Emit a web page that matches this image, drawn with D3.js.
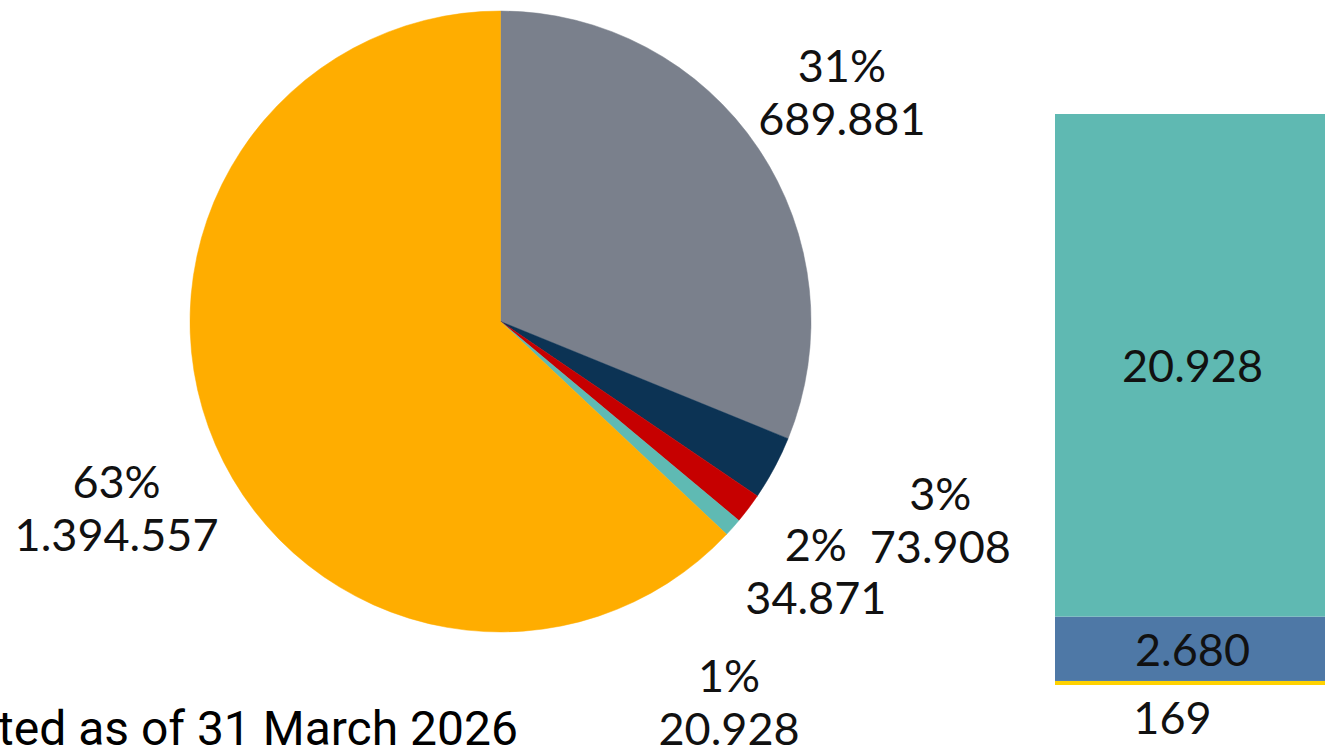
<!DOCTYPE html>
<html>
<head>
<meta charset="utf-8">
<script src="https://cdn.jsdelivr.net/npm/d3@7"></script>
<style>
  html, body { margin: 0; padding: 0; background: #ffffff; overflow: hidden; }
  svg { display: block; }
</style>
</head>
<body>
<svg id="chart" width="1325" height="750"></svg>
<script>
// ---- data ----
const pieCategories = ["grey", "navy", "red", "teal", "orange"];
const pieValues = [689881, 73908, 34871, 20928, 1394557];
const pieColors = ["#7a808c", "#0c3354", "#c60000", "#5fbab3", "#ffad00"];

// stacked bar, listed from top to bottom
const barSegments = ["teal", "blue", "yellow"];
const barValues = [20928, 2680, 169];
const barColors = ["#5fb9b2", "#4e78a6", "#ffd200"];

const footnote = "ted as of 31 March 2026";

// ---- layout ----
const W = 1325, H = 750;
const svg = d3.select("#chart");
const fmt = d3.formatLocale({ decimal: ",", thousands: ".", grouping: [3], currency: ["", ""] }).format(",d");
const labelFont = "Lato, 'Noto Sans', sans-serif";
const labelSize = 45;

// Pie
const cx = 500.5, cy = 321.5, R = 310.5;
const total = d3.sum(pieValues);
const pieData = pieCategories.map((c, i) => ({ cat: c, value: pieValues[i], color: pieColors[i] }));
const pie = d3.pie().sort(null).value(d => d.value).startAngle(0).endAngle(2 * Math.PI);
const arcs = pie(pieData);
const arc = d3.arc().innerRadius(0).outerRadius(R);

const gPie = svg.append("g").attr("transform", `translate(${cx},${cy})`);
gPie.selectAll("path").data(arcs).join("path")
  .attr("d", arc)
  .attr("fill", d => d.data.color)
  .attr("stroke", d => d.data.color)
  .attr("stroke-width", 0.5);

// label placement: polar position at slice mid-angle plus nudges
const labelRadius = 415;
const nudges = { grey: [-3, 2], navy: [74, 2], red: [-16, -1], teal: [-82, 105], orange: [-3, 21] };
const lineGap = 26.5;

const gLab = svg.append("g").attr("font-family", labelFont).attr("font-size", labelSize).attr("fill", "#111");
arcs.forEach(a => {
  const mid = (a.startAngle + a.endAngle) / 2;
  const n = nudges[a.data.cat];
  const x = cx + labelRadius * Math.sin(mid) + n[0];
  const y = cy - labelRadius * Math.cos(mid) + n[1];
  const pct = Math.round(a.data.value / total * 100) + "%";
  gLab.append("text").attr("x", x).attr("y", y - lineGap)
    .attr("text-anchor", "middle").attr("dominant-baseline", "central").text(pct);
  gLab.append("text").attr("x", x).attr("y", y + lineGap)
    .attr("text-anchor", "middle").attr("dominant-baseline", "central").text(fmt(a.data.value));
});

// Stacked bar (stacked from the bottom up)
const barTotal = d3.sum(barValues);
const y = d3.scaleLinear().domain([0, barTotal]).range([685, 114]);
const x = d3.scaleBand().domain(["bar"]).range([1055, 1330]).padding(0);
let acc = 0;
const stack = [];
for (let i = barValues.length - 1; i >= 0; i--) {
  stack.push({ seg: barSegments[i], y0: acc, y1: acc + barValues[i], value: barValues[i], color: barColors[i] });
  acc += barValues[i];
}

const gBar = svg.append("g");
gBar.selectAll("rect").data(stack).join("rect")
  .attr("x", x("bar"))
  .attr("width", x.bandwidth())
  .attr("y", d => y(d.y1))
  .attr("height", d => y(d.y0) - y(d.y1))
  .attr("fill", d => d.color);

const gBarLab = svg.append("g").attr("font-family", labelFont).attr("font-size", labelSize).attr("fill", "#111");
stack.forEach(d => {
  const h = y(d.y0) - y(d.y1);
  if (h > 40) {
    gBarLab.append("text")
      .attr("x", x("bar") + x.bandwidth() / 2)
      .attr("y", (y(d.y0) + y(d.y1)) / 2)
      .attr("text-anchor", "middle").attr("dominant-baseline", "central")
      .text(fmt(d.value));
  } else {
    gBarLab.append("text")
      .attr("x", x("bar") + x.bandwidth() / 2 - 20)
      .attr("y", y(d.y0) + 32)
      .attr("text-anchor", "middle").attr("dominant-baseline", "central")
      .text(fmt(d.value));
  }
});

// Footnote
svg.append("text")
  .attr("x", -2).attr("y", 745)
  .attr("font-family", "Roboto, sans-serif").attr("font-size", 48)
  .attr("fill", "#000")
  .text(footnote);
</script>
</body>
</html>
